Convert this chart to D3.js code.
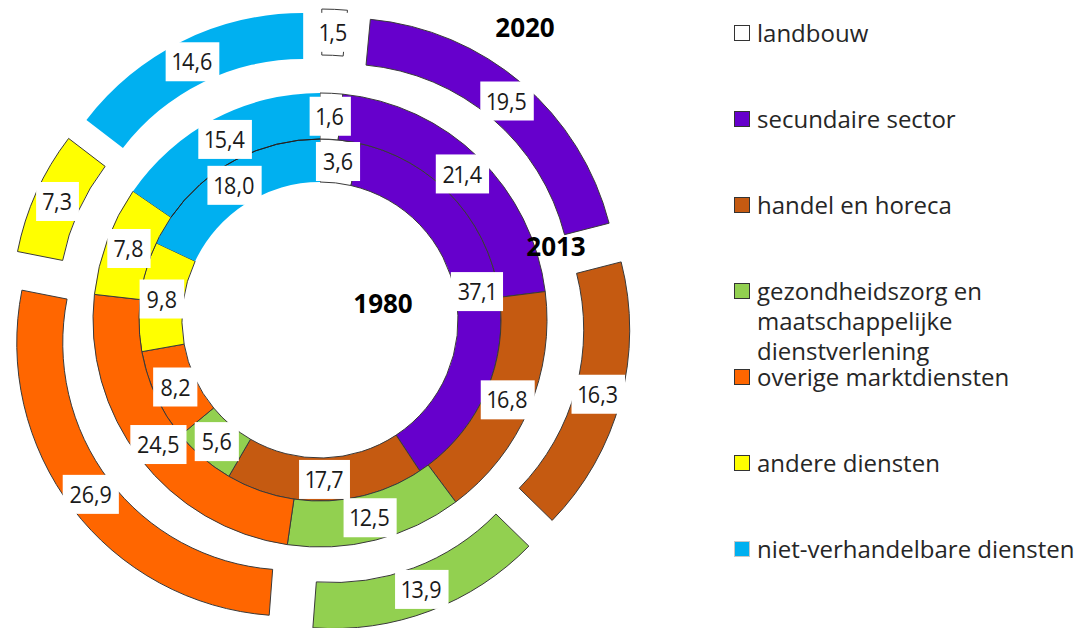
<!DOCTYPE html>
<html><head><meta charset="utf-8">
<script src="https://cdn.jsdelivr.net/npm/d3@7"></script>
<style>
body{margin:0;background:#fff}
svg{display:block}
.val{font-family:"Open Sans",sans-serif;font-size:24px;fill:#1a1a1a;font-variant-numeric:proportional-nums}
.leg{font-family:"Open Sans",sans-serif;font-size:24px;fill:#262626}
.yr{font-family:"Open Sans",sans-serif;font-size:26px;font-weight:700;fill:#000}
</style>
</head><body>
<svg id="chart" width="1079" height="628"></svg>
<script>
// ---- data ----
const categories = ["landbouw","secundaire sector","handel en horeca","gezondheidszorg en maatschappelijke dienstverlening","overige marktdiensten","andere diensten","niet-verhandelbare diensten"];
const legendLines = [["landbouw"],["secundaire sector"],["handel en horeca"],["gezondheidszorg en","maatschappelijke","dienstverlening"],["overige marktdiensten"],["andere diensten"],["niet-verhandelbare diensten"]];
const colors = ["#ffffff","#6600cc","#c55a11","#92d050","#ff6600","#ffff00","#00b0f0"];
const years = ["1980","2013","2020"];
const values1980 = [3.6,37.1,17.7,5.6,8.2,9.8,18.0];
const values2013 = [1.6,21.4,16.8,12.5,24.5,7.8,15.4];
const values2020 = [1.5,19.5,16.3,13.9,26.9,7.3,14.6];

// ---- layout ----
const svg = d3.select("#chart");
const cx = 320, cy = 320;
const rings = [
  {year:"1980", values:values1980, r0:138, r1:181, explode:0},
  {year:"2013", values:values2013, r0:181, r1:227, explode:0},
  {year:"2020", values:values2020, r0:227, r1:273, explode:38}
];
const blueIdx = 6;
const pie = d3.pie().sort(null).value(d => d);
const fmt = v => d3.format(".1f")(v).replace(".", ",");
const g = svg.append("g").attr("transform", `translate(${cx},${cy})`);
const sliceLayer = g.append("g");
const labelLayer = g.append("g");

rings.forEach(ring => {
  const arcs = pie(ring.values);
  const arc = d3.arc().innerRadius(ring.r0).outerRadius(ring.r1);
  arcs.forEach((a, i) => {
    const mid = (a.startAngle + a.endAngle) / 2;
    const dx = ring.explode * Math.sin(mid), dy = -ring.explode * Math.cos(mid);
    sliceLayer.append("path")
      .attr("d", arc(a))
      .attr("transform", `translate(${dx},${dy})`)
      .attr("fill", colors[i])
      .attr("stroke", i === blueIdx ? "none" : "#3a3a3a")
      .attr("stroke-width", 1)
      .attr("stroke-linejoin", "miter");
    const c = arc.centroid(a);
    ring.labels = ring.labels || [];
    ring.labels.push({x: c[0] + dx, y: c[1] + dy, text: fmt(ring.values[i])});
  });
});

// thin separator line between 1980 and 2013 rings across the blue slice
{
  const a = pie(values2013)[blueIdx];
  sliceLayer.append("path")
    .attr("d", d3.arc().innerRadius(181).outerRadius(181).startAngle(a.startAngle).endAngle(a.endAngle)())
    .attr("fill", "none").attr("stroke", "#222").attr("stroke-width", 1);
}

// value labels with white boxes
const sx = 0.9;
rings.forEach(ring => {
  ring.labels.forEach(l => {
    const lg = labelLayer.append("g").attr("transform", `translate(${l.x},${l.y})`);
    const rect = lg.append("rect").attr("fill", "#fff");
    const t = lg.append("text").attr("class", "val")
      .attr("text-anchor", "middle").attr("dy", "0.36em")
      .attr("transform", `scale(${sx},1)`)
      .text(l.text);
    const w = t.node().getComputedTextLength() * sx;
    const bw = w + 14, bh = 39;
    rect.attr("x", -bw / 2).attr("y", -bh / 2).attr("width", bw).attr("height", bh);
  });
});

// year labels
const yearPos = {"2020":[525,37], "2013":[556,256], "1980":[383,313]};
years.forEach(y => {
  svg.append("text").attr("class", "yr").attr("text-anchor", "middle")
    .attr("x", yearPos[y][0]).attr("y", yearPos[y][1]).text(y);
});

// legend
const legX = 734, legY0 = 25, legStep = 86, sq = 15;
legendLines.forEach((lines, i) => {
  const y0 = legY0 + i * legStep;
  svg.append("rect").attr("x", legX + 0.5).attr("y", y0 + 0.5).attr("width", sq).attr("height", sq)
    .attr("fill", colors[i])
    .attr("stroke", i === blueIdx ? "#c8c8c8" : "#333").attr("stroke-width", 1);
  lines.forEach((ln, j) => {
    svg.append("text").attr("class", "leg").attr("x", legX + 23).attr("y", y0 + 17 + j * 30).text(ln);
  });
});
</script>
</body></html>
